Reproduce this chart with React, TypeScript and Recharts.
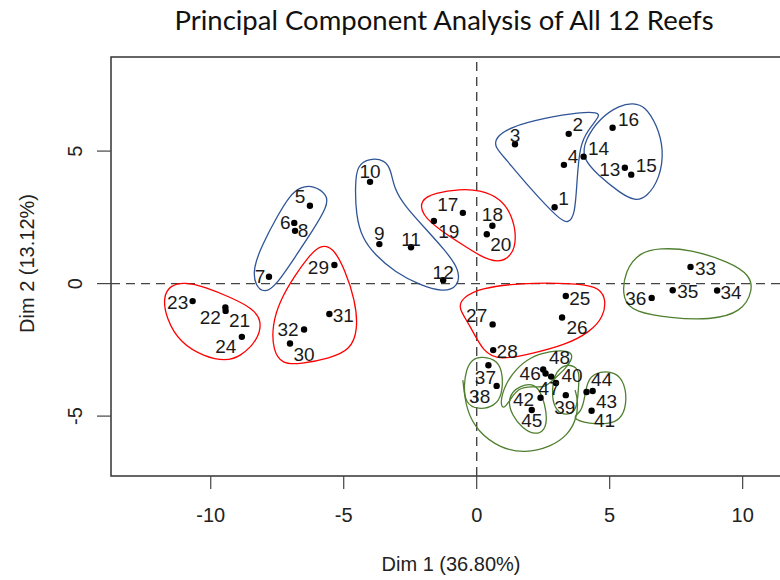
import { ScatterChart, Scatter, XAxis, YAxis, ReferenceLine, ReferenceArea } from 'recharts'

// sample ids (one per reef site)
const SAMPLES = Array.from({ length: 48 }, (_, i) => String(i + 1))

const DIM1 = [
  2.93, 3.46, 1.44, 3.28, -6.27, -6.86, -7.81, -6.83, -3.66, -4.01, -2.47, -1.26,
  5.57, 4.02, 5.81, 5.11, -0.52, 0.59, -1.61, 0.38, -9.44, -9.45, -10.68, -8.83,
  3.35, 3.21, 0.6, 0.62, -5.35, -7.02, -5.54, -6.49, 8.04, 9.04, 7.37, 6.58,
  0.44, 0.75, 3.35, 2.98, 4.32, 2.4, 4.13, 4.36, 2.07, 2.5, 2.8, 2.59,
]

const DIM2 = [
  2.88, 5.65, 5.26, 4.48, 2.94, 2.29, 0.26, 1.99, 1.49, 3.84, 1.37, 0.13,
  4.37, 4.79, 4.11, 5.88, 2.67, 2.18, 2.36, 1.86, -1.03, -0.9, -0.66, -2.01,
  -0.47, -1.28, -1.54, -2.51, 0.7, -2.26, -1.15, -1.73, 0.63, -0.26, -0.25, -0.54,
  -3.08, -3.86, -4.21, -3.75, -4.8, -4.31, -4.09, -4.05, -4.77, -3.24, -3.51, -3.39,
]

const X_TICKS = [-10, -5, 0, 5, 10]
const Y_TICKS = [-5, 0, 5]

// hand-drawn group outlines, in Dim1/Dim2 units
const HULL_A = [[-6.15, 3.72], [-5.59, 3.34], [-5.63, 2.89], [-6.15, 2.02], [-6.83, 1.0], [-7.54, -0.06], [-7.96, -0.36], [-8.33, -0.09], [-8.41, 0.58], [-8.07, 1.45], [-7.54, 2.47], [-7.02, 3.34], [-6.64, 3.64]]
const HULL_B = [[-4.01, 4.74], [-3.45, 4.66], [-3.22, 4.28], [-3.11, 3.6], [-2.7, 2.92], [-1.94, 2.09], [-1.19, 1.26], [-0.63, 0.51], [-0.7, -0.13], [-1.27, -0.32], [-2.13, -0.06], [-3.07, 0.43], [-3.82, 1.08], [-4.31, 1.72], [-4.54, 2.59], [-4.57, 3.72], [-4.5, 4.47]]
const HULL_C = [[0.69, 5.49], [1.25, 5.91], [2.57, 6.25], [3.88, 6.47], [4.56, 6.47], [4.63, 6.32], [4.18, 5.79], [3.88, 5.23], [3.77, 3.91], [3.7, 2.59], [3.43, 2.25], [3.06, 2.47], [2.0, 3.6], [1.06, 4.74], [0.69, 5.15]]
const HULL_D = [[5.88, 6.81], [6.33, 6.7], [6.78, 5.98], [7.04, 5.04], [6.89, 3.98], [6.4, 3.26], [5.95, 3.11], [5.39, 3.42], [4.56, 4.09], [3.96, 4.74], [4.07, 5.42], [4.63, 6.25], [5.39, 6.74]]
const HULL_E = [[-2.13, 3.15], [-1.57, 3.42], [-0.63, 3.57], [0.12, 3.53], [0.88, 3.23], [1.33, 2.59], [1.51, 1.72], [1.33, 1.04], [0.8, 0.77], [0.12, 1.04], [-0.63, 1.53], [-1.38, 2.02], [-2.06, 2.59]]
const HULL_F = [[-10.96, 0.06], [-10.21, -0.13], [-9.27, -0.51], [-8.45, -0.92], [-8.07, -1.38], [-8.22, -2.13], [-8.9, -2.77], [-9.46, -2.92], [-10.21, -2.77], [-11.15, -2.25], [-11.68, -1.3], [-11.79, -0.51], [-11.53, -0.06]]
const HULL_G = [[-5.89, 1.45], [-5.4, 1.38], [-4.95, 0.51], [-4.57, -0.62], [-4.46, -1.75], [-4.76, -2.51], [-5.51, -2.81], [-6.64, -3.04], [-7.32, -3.04], [-7.66, -2.51], [-7.69, -1.57], [-7.39, -0.62], [-6.83, 0.32], [-6.27, 1.08]]
const HULL_H = [[-0.55, -0.55], [0.12, -0.17], [1.63, 0.02], [3.51, 0.02], [4.52, -0.09], [4.86, -0.51], [4.79, -1.23], [4.26, -1.83], [3.32, -2.32], [2.0, -2.66], [0.88, -2.89], [0.24, -2.59], [-0.25, -1.57], [-0.7, -0.92]]
const HULL_I = [[5.46, -0.62], [5.57, 0.51], [6.14, 1.19], [6.89, 1.34], [8.02, 1.3], [9.52, 0.81], [10.27, 0.32], [10.39, -0.25], [9.97, -1.08], [8.77, -1.38], [7.27, -1.3], [5.95, -1.08]]
const HULL_J = [[-0.52, -3.64], [-0.4, -4.77], [0.05, -5.6], [0.88, -6.21], [1.82, -6.4], [2.76, -6.17], [3.43, -5.72], [3.77, -5.08], [3.81, -4.4], [3.7, -4.02]]
const HULL_K = [[-0.18, -2.85], [0.2, -2.74], [0.8, -2.89], [0.99, -3.45], [0.95, -4.21], [0.69, -4.62], [0.05, -4.77], [-0.44, -4.51], [-0.48, -3.83], [-0.4, -3.26]]
const HULL_L = [[1.44, -3.26], [2.0, -2.77], [2.76, -2.55], [3.43, -2.51], [3.66, -2.74], [3.36, -3.19], [2.94, -3.57], [2.57, -3.94], [2.08, -3.87], [1.55, -3.94], [1.25, -4.4], [0.99, -4.77], [0.88, -4.47], [1.06, -3.83]]
const HULL_M = [[1.33, -4.09], [1.63, -3.87], [2.08, -3.76], [2.38, -4.02], [2.57, -4.59], [2.64, -5.08], [2.57, -5.53], [2.19, -5.72], [1.7, -5.45], [1.33, -4.96], [1.18, -4.47]]
const HULL_N = [[2.98, -3.34], [3.32, -3.04], [3.7, -3.11], [3.88, -3.38], [3.81, -4.09], [3.77, -4.77], [3.39, -5.0], [2.94, -4.77], [2.83, -4.21], [2.87, -3.72]]
const HULL_O = [[4.18, -3.57], [4.64, -3.3], [5.2, -3.34], [5.57, -3.72], [5.65, -4.59], [5.39, -5.15], [4.94, -5.3], [4.26, -5.3], [3.51, -5.08], [3.96, -4.85], [4.07, -4.21]]

const BLUE = '#2f5597'
const RED = '#ff0000'
const GREEN = '#4f7f2f'

const HULLS: { pts: number[][]; color: string; closed: boolean }[] = [
  { pts: HULL_A, color: BLUE, closed: true },
  { pts: HULL_B, color: BLUE, closed: true },
  { pts: HULL_C, color: BLUE, closed: true },
  { pts: HULL_D, color: BLUE, closed: true },
  { pts: HULL_E, color: RED, closed: true },
  { pts: HULL_F, color: RED, closed: true },
  { pts: HULL_G, color: RED, closed: true },
  { pts: HULL_H, color: RED, closed: true },
  { pts: HULL_I, color: GREEN, closed: true },
  { pts: HULL_J, color: GREEN, closed: false },
  { pts: HULL_K, color: GREEN, closed: true },
  { pts: HULL_L, color: GREEN, closed: true },
  { pts: HULL_M, color: GREEN, closed: true },
  { pts: HULL_N, color: GREEN, closed: true },
  { pts: HULL_O, color: GREEN, closed: true },
]

// where each label sits relative to its dot (px)
const LABEL_OFFSET: Record<string, [number, number]> = {
  '1': [9, -9], '2': [9, -9], '3': [0, -9], '4': [9, -8], '5': [-10, -9], '6': [-9, 0],
  '7': [-9, 0], '8': [8, 0], '9': [0, -11], '10': [0, -10], '11': [0, -8], '12': [0, -8],
  '13': [-15, 2], '14': [15, -8], '15': [15, -9], '16': [16, -8], '17': [-15, -8], '18': [0, -11],
  '19': [15, 10], '20': [14, 10], '21': [14, 10], '22': [-15, 10], '23': [-15, 1], '24': [-16, 10],
  '25': [14, 2], '26': [15, 10], '27': [-16, -9], '28': [14, 1], '29': [-16, 2], '30': [14, 11],
  '31': [14, 1], '32': [-16, 0], '33': [15, 2], '34': [14, 2], '35': [15, 1], '36': [-16, 1],
  '37': [-3, 12], '38': [-17, 11], '39': [-1, 12], '40': [16, -7], '41': [13, 10], '42': [-17, 2],
  '43': [20, 10], '44': [9, -11], '45': [0, 10], '46': [-13, 4], '47': [-2, 12], '48': [14, -16],
}

const points = SAMPLES.map((id, i) => ({ id, x: DIM1[i], y: DIM2[i] }))

const X_DOMAIN: [number, number] = [-13.75, 11.78]
const Y_DOMAIN: [number, number] = [-7.26, 8.55]

const AXIS_FONT = '"Liberation Sans", Arial, sans-serif'

function PointShape(props: any) {
  const { cx, cy, payload } = props
  const [dx, dy] = LABEL_OFFSET[payload.id] ?? [10, 0]
  return (
    <g>
      <circle cx={cx} cy={cy} r={3.2} fill="#000" />
      <text
        x={cx + dx}
        y={cy + dy}
        textAnchor="middle"
        dominantBaseline="central"
        fontFamily={AXIS_FONT}
        fontSize={19}
        fill="#1a1a1a"
      >
        {payload.id}
      </text>
    </g>
  )
}

function XTick(props: any) {
  const { x, y, payload } = props
  return (
    <text x={x} y={y + 24} textAnchor="middle" dominantBaseline="central" fontFamily={AXIS_FONT} fontSize={20} fill="#222">
      {payload.value}
    </text>
  )
}

function YTick(props: any) {
  const { x, y, payload } = props
  const tx = x - 20
  return (
    <text
      x={tx}
      y={y}
      transform={`rotate(-90, ${tx}, ${y})`}
      textAnchor="middle"
      dominantBaseline="central"
      fontFamily={AXIS_FONT}
      fontSize={20}
      fill="#222"
    >
      {payload.value}
    </text>
  )
}

export default function App() {
  return (
    <div style={{ position: 'fixed', left: 0, top: 0, width: 780, height: 580, overflow: 'hidden', background: '#fff' }}>
      <div
        style={{
          position: 'absolute', left: 0, top: 3, width: 888, textAlign: 'center',
          fontFamily: 'Lato, "Open Sans", sans-serif', fontSize: 27.5, color: '#111',
        }}
      >
        Principal Component Analysis of All 12 Reefs
      </div>
      <div
        style={{
          position: 'absolute', left: 0, top: 553, width: 902, textAlign: 'center',
          fontFamily: AXIS_FONT, fontSize: 20, color: '#222',
        }}
      >
        Dim 1 (36.80%)
      </div>
      <div
        style={{
          position: 'absolute', left: 27, top: 265, width: 0, height: 0,
        }}
      >
        <div
          style={{
            position: 'absolute', left: -100, top: -13, width: 200, textAlign: 'center',
            transform: 'rotate(-90deg)', fontFamily: AXIS_FONT, fontSize: 20, color: '#222', whiteSpace: 'nowrap',
          }}
        >
          Dim 2 (13.12%)
        </div>
      </div>
      <ScatterChart width={800} height={580} margin={{ top: 57, right: 10, bottom: 0, left: 0 }}>
        <XAxis
          type="number"
          dataKey="x"
          domain={X_DOMAIN}
          ticks={X_TICKS}
          allowDataOverflow
          axisLine={false}
          tickSize={13}
          tickLine={{ stroke: '#444', strokeWidth: 1.2 }}
          tick={<XTick />}
          height={104}
        />
        <YAxis
          type="number"
          dataKey="y"
          domain={Y_DOMAIN}
          ticks={Y_TICKS}
          allowDataOverflow
          axisLine={false}
          tickSize={14}
          tickLine={{ stroke: '#444', strokeWidth: 1.2 }}
          tick={<YTick />}
          width={111}
        />
        <ReferenceArea
          x1={X_DOMAIN[0]}
          x2={X_DOMAIN[1]}
          y1={Y_DOMAIN[0]}
          y2={Y_DOMAIN[1]}
          fill="none"
          stroke="#333"
          strokeWidth={1.5}
          ifOverflow="visible"
        />
        <ReferenceLine x={0} stroke="#444" strokeWidth={1.4} strokeDasharray="9 6" />
        <ReferenceLine y={0} stroke="#444" strokeWidth={1.4} strokeDasharray="9 6" />
        {HULLS.map((h, i) => (
          <Scatter
            key={i}
            data={h.pts.map(([x, y]) => ({ x, y }))}
            line={{ stroke: h.color, strokeWidth: 1.3, fill: 'none' }}
            lineType="joint"
            lineJointType={h.closed ? 'basisClosed' : 'basis'}
            shape={() => <g />}
            isAnimationActive={false}
          />
        ))}
        <Scatter data={points} shape={<PointShape />} isAnimationActive={false} />
      </ScatterChart>
    </div>
  )
}
